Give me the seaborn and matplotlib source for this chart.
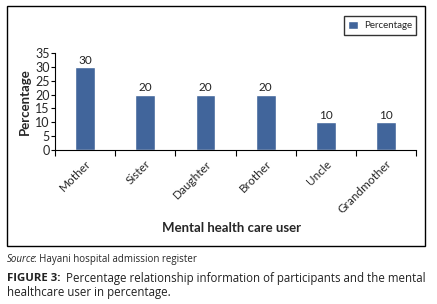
import matplotlib
matplotlib.use("Agg")
import matplotlib.pyplot as plt
import seaborn as sns
import pandas as pd
from matplotlib.patches import Rectangle

# data
relations = ["Mother", "Sister", "Daughter", "Brother", "Uncle", "Grandmother"]
percentages = [30, 20, 20, 20, 10, 10]
yticks = [0, 5, 10, 15, 20, 25, 30, 35]

df = pd.DataFrame({"relation": relations, "Percentage": percentages})

sns.set_style("white")
plt.rcParams["font.family"] = ["Lato", "DejaVu Sans"]

bar_color = "#41659b"

fig = plt.figure(figsize=(4.37, 3.04), dpi=100)
ax = fig.add_axes([0.126, 0.507, 0.826, 0.318])

sns.barplot(data=df, x="relation", y="Percentage", color=bar_color,
            width=0.33, label="Percentage", ax=ax, saturation=1)

for cont in ax.containers:
    ax.bar_label(cont, fmt="%d", padding=1, fontsize=8.5, color="#222222")

ax.set_ylim(0, 35)
ax.set_yticks(yticks)
ax.set_xlim(-0.5, len(relations) - 0.5)
ax.tick_params(axis="y", labelsize=9, length=3, width=0.8, pad=1, left=True, color="black")
ax.set_xticks(range(len(relations)))
ax.set_xticklabels(relations, rotation=45, ha="right", rotation_mode="anchor", fontsize=8.5)
ax.tick_params(axis="x", which="major", length=0, pad=6)
ax.set_xticks([i - 0.5 for i in range(len(relations) + 1)], minor=True)
ax.tick_params(axis="x", which="minor", length=4, width=0.8, bottom=True, color="black", direction="out")

for side in ["top", "right"]:
    ax.spines[side].set_visible(False)
for side in ["left", "bottom"]:
    ax.spines[side].set_color("black")
    ax.spines[side].set_linewidth(0.8)

ax.set_ylabel("Percentage", fontsize=9.5, fontweight="bold", labelpad=0)
ax.yaxis.set_label_coords(-0.068, 0.5)
ax.set_xlabel("")
fig.text(0.53, 0.25, "Mental health care user", fontsize=9.5, fontweight="bold", ha="center", va="center")

leg = ax.legend(loc="upper right", bbox_to_anchor=(0.964, 0.962), bbox_transform=fig.transFigure,
                frameon=True, fancybox=False, fontsize=7, handlelength=1.0, handleheight=1.0,
                borderpad=0.45, handletextpad=0.6)
leg.get_frame().set_edgecolor("black")
leg.get_frame().set_linewidth(1.0)

# outer frame around the chart
fig.patches.append(Rectangle((0.016, 0.191), 0.957, 0.789, transform=fig.transFigure,
                             fill=False, edgecolor="black", linewidth=1.0))

cap_font = ["Open Sans", "DejaVu Sans"]
renderer = fig.canvas.get_renderer()


def put_after(first, text, gap=0.0, **kw):
    # place text right after an earlier text on the same line
    bb = first.get_window_extent(renderer).transformed(fig.transFigure.inverted())
    x0, y0 = first.get_position()
    return fig.text(bb.x1 + gap, y0, text, **kw)


src = fig.text(0.016, 0.148, "Source", fontsize=7, style="italic", family=cap_font, va="center")
put_after(src, ": Hayani hospital admission register", gap=-0.004, fontsize=7, family=cap_font, va="center")
fig.text(0.016, 0.085, "FIGURE 3:", fontsize=8.2, fontweight="bold", family=cap_font, va="center", color="#222222")
fig.text(0.973, 0.085, "Percentage relationship information of participants and the mental",
         fontsize=8.3, family=cap_font, va="center", ha="right", color="#222222")
fig.text(0.016, 0.038, "healthcare user in percentage.", fontsize=8.3, family=cap_font, va="center", color="#222222")

fig.savefig("out.png", dpi=100)
